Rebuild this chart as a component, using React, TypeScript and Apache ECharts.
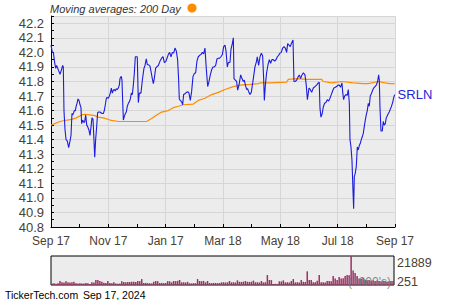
import React, { useEffect, useRef } from "react";
import * as echarts from "echarts";

// ---- Data ----
const xTickLabels = ["Sep 17", "Nov 17", "Jan 17", "Mar 18", "May 18", "Jul 18", "Sep 17"];
const volTickLabels = ["21889", "251"];
const seriesName = "SRLN";
const legendTitle = "Moving averages: 200 Day";
const footerSite = "TickerTech.com";
const footerDate = "Sep 17, 2024";

// calendar day offset since Sep 17 (0..366)
const priceDays = [
  0, 1.4, 2.5, 3.9, 5.0, 6.0, 7.8, 9.6, 10.6, 12.4, 13.1, 13.8, 14.9, 16.0, 17.4, 18.8, 20.2, 21.3, 22.3, 23.0,
  24.1, 24.8, 25.9, 26.6, 27.7, 28.7, 29.8, 30.9, 31.9, 32.6, 33.7, 34.8, 35.8, 36.9, 38.0, 39.0, 40.4, 41.5, 42.6, 43.6,
  44.7, 45.7, 46.5, 47.5, 48.6, 49.6, 50.7, 52.1, 53.2, 54.3, 55.7, 56.7, 57.8, 58.9, 59.9, 61.0, 62.1, 63.1, 64.2, 65.2,
  66.3, 67.4, 68.4, 69.5, 70.6, 71.6, 72.7, 73.4, 74.8, 75.5, 76.2, 77.0, 78.0, 79.1, 80.1, 81.2, 82.3, 83.3, 84.4, 85.5,
  86.5, 87.6, 88.7, 89.7, 90.8, 91.8, 92.9, 94.0, 95.7, 97.2, 98.9, 100.0, 101.4, 102.5, 103.9, 105.3, 106.4, 107.8, 108.9, 109.9,
  111.3, 112.4, 114.2, 116.0, 117.7, 119.2, 120.6, 122.0, 123.4, 124.8, 126.2, 127.7, 129.1, 130.5, 131.9, 133.3, 134.7, 135.8, 136.5, 137.6,
  139.0, 140.1, 141.1, 142.5, 144.0, 145.4, 146.8, 148.2, 149.6, 151.1, 152.5, 153.9, 155.3, 156.7, 158.2, 159.6, 161.0, 162.4, 163.8, 165.2,
  166.7, 168.1, 169.5, 170.9, 172.3, 173.8, 175.2, 176.6, 178.0, 179.4, 180.8, 182.3, 183.7, 185.1, 186.2, 187.6, 188.7, 190.4, 191.5, 192.9,
  194.0, 194.7, 196.1, 197.5, 198.6, 200.0, 201.8, 203.2, 204.6, 205.7, 206.8, 208.2, 209.2, 210.3, 211.7, 213.1, 214.6, 215.6, 217.0, 218.5,
  219.5, 220.9, 222.4, 223.8, 225.2, 226.3, 227.0, 228.0, 229.4, 230.9, 232.3, 233.7, 235.1, 236.5, 238.0, 239.4, 240.8, 242.2, 243.6, 245.0,
  246.5, 247.9, 249.3, 250.7, 251.8, 253.2, 254.6, 256.0, 257.5, 258.5, 259.9, 261.4, 262.8, 264.2, 265.6, 267.0, 268.5, 270.2, 271.5, 272.8,
  274.5, 275.9, 277.3, 279.1, 280.8, 282.6, 284.4, 285.4, 286.2, 287.2, 288.6, 289.7, 291.1, 292.5, 294.0, 295.4, 296.8, 298.2, 299.6, 301.0,
  302.5, 303.9, 305.3, 306.7, 308.1, 309.6, 310.3, 311.3, 312.4, 313.8, 315.2, 316.3, 317.4, 318.1, 319.1, 320.2, 321.3, 322.0, 322.7, 323.7,
  324.8, 325.9, 326.9, 328.0, 329.1, 330.1, 331.2, 332.3, 333.3, 334.4, 335.4, 336.5, 337.6, 338.6, 339.7, 341.1, 342.2, 343.3, 344.7, 346.1,
  347.5, 348.6, 349.3, 350.0, 351.1, 352.5, 353.5, 354.6, 355.7, 356.7, 357.8, 358.9, 359.9, 361.0, 362.0, 363.5, 364.5, 365.6,
];
const prices = [
  42.05, 42.0, 42.0, 41.93, 41.89, 41.91, 41.88, 41.85, 41.87, 41.91, 41.9, 41.6, 41.47, 41.4, 41.39, 41.345, 41.39, 41.43, 41.58, 41.57,
  41.585, 41.6, 41.6, 41.625, 41.65, 41.68, 41.67, 41.64, 41.62, 41.51, 41.535, 41.52, 41.52, 41.57, 41.5, 41.49, 41.465, 41.43, 41.49, 41.55,
  41.54, 41.4, 41.28, 41.4, 41.49, 41.585, 41.59, 41.59, 41.585, 41.58, 41.58, 41.6, 41.64, 41.685, 41.69, 41.685, 41.7, 41.72, 41.755, 41.72,
  41.74, 41.745, 41.735, 41.75, 41.745, 41.755, 41.775, 41.82, 41.835, 41.81, 41.675, 41.535, 41.56, 41.58, 41.59, 41.63, 41.65, 41.66, 41.68, 41.72,
  41.71, 41.775, 41.86, 41.97, 41.97, 41.97, 41.655, 41.72, 41.72, 41.81, 41.89, 41.91, 41.955, 41.915, 41.915, 41.905, 41.87, 41.82, 41.785, 41.82,
  41.89, 41.9, 41.91, 41.94, 41.96, 41.97, 41.93, 41.935, 41.96, 41.985, 42.0, 41.97, 42.0, 41.995, 42.03, 42.01, 41.95, 41.81, 41.68, 41.67,
  41.66, 41.64, 41.71, 41.715, 41.725, 41.73, 41.72, 41.67, 41.73, 41.835, 41.855, 41.86, 41.94, 41.97, 41.98, 41.985, 42.0, 41.99, 42.03, 41.89,
  41.765, 41.8, 41.845, 41.88, 41.9, 41.9, 41.91, 41.955, 41.96, 41.96, 41.97, 41.985, 42.04, 42.05, 42.01, 41.9, 41.93, 41.93, 42.02, 42.06,
  42.1, 41.82, 41.81, 41.8, 41.74, 41.775, 41.845, 41.82, 41.8, 41.81, 41.775, 41.745, 41.75, 41.73, 41.71, 41.725, 41.79, 41.835, 41.9, 41.935,
  41.97, 41.91, 41.97, 41.995, 41.975, 41.81, 41.67, 41.77, 41.86, 41.915, 41.95, 41.925, 41.95, 41.95, 41.94, 41.95, 41.97, 41.98, 41.995, 42.0,
  42.03, 42.04, 42.03, 42.0, 42.06, 42.05, 42.04, 42.065, 42.085, 41.8, 41.8, 41.81, 41.83, 41.845, 41.82, 41.845, 41.86, 41.845, 41.78, 41.675,
  41.755, 41.745, 41.725, 41.755, 41.765, 41.775, 41.79, 41.795, 41.615, 41.555, 41.58, 41.625, 41.65, 41.655, 41.675, 41.665, 41.685, 41.71, 41.735, 41.755,
  41.76, 41.765, 41.775, 41.775, 41.76, 41.79, 41.73, 41.675, 41.7, 41.71, 41.705, 41.745, 41.65, 41.4, 41.355, 41.26, 41.05, 40.925, 41.145, 41.17,
  41.215, 41.35, 41.33, 41.36, 41.375, 41.4, 41.42, 41.445, 41.49, 41.535, 41.57, 41.6, 41.65, 41.63, 41.7, 41.72, 41.74, 41.755, 41.765, 41.775,
  41.8, 41.845, 41.81, 41.625, 41.46, 41.46, 41.525, 41.5, 41.51, 41.55, 41.565, 41.58, 41.59, 41.61, 41.625, 41.655, 41.685, 41.71,
];

const maDays = [
  0, 9.6, 13, 22, 27, 32.6, 36, 41.5, 46.8, 50, 55.7, 62.8, 71.6, 80.5, 94, 101.8, 107, 112.4, 117.7, 124.8,
  130.1, 135.5, 140.8, 151.4, 156.7, 163.8, 170.9, 178, 185.1, 194, 201, 211.7, 220.6, 222.4, 233, 250.7, 252.5, 261.4, 272, 288,
  289.7, 298.6, 309.2, 321.6, 332.3, 337.6, 348.2, 355.3, 360.6, 365.6,
];
const maValues = [
  41.5, 41.525, 41.53, 41.54, 41.55, 41.57, 41.575, 41.57, 41.565, 41.555, 41.55, 41.535, 41.525, 41.525, 41.525, 41.525, 41.545, 41.57, 41.59, 41.6,
  41.62, 41.63, 41.64, 41.645, 41.67, 41.685, 41.71, 41.725, 41.745, 41.765, 41.775, 41.78, 41.785, 41.79, 41.79, 41.795, 41.815, 41.82, 41.815, 41.815,
  41.8, 41.79, 41.8, 41.79, 41.785, 41.785, 41.8, 41.79, 41.785, 41.785,
];

// volume (thousands), left to right
const volumes = [
  1100, 1300, 1000, 1400, 3000, 2000, 1800, 2900, 2000, 1900, 2100, 2400, 1300, 1200, 1300, 1100, 1200, 1500, 1400, 700,
  2000, 1900, 3800, 3700, 3000, 2400, 1700, 1600, 3000, 1500, 1400, 2000, 1100, 1000, 1200, 2800, 2200, 2100, 2300, 2200,
  2400, 2500, 2300, 3000, 2900, 4500, 1500, 1600, 1400, 1300, 1200, 2400, 3000, 2900, 1500, 1600, 1400, 1500, 2900, 2800,
  2000, 3000, 2900, 3100, 3800, 2000, 2100, 1900, 2400, 1300, 1200, 1400, 1300, 4500, 3000, 2900, 3100, 2000, 3000, 1500,
  1400, 1600, 1500, 1400, 1500, 2000, 2100, 1900, 2000, 3000, 2000, 2100, 1900, 3500, 2400, 2300, 2500, 3000, 2400, 2300,
  2500, 3300, 2000, 2100, 1900, 3000, 2000, 2100, 7500, 3800, 3700, 800, 900, 800, 2800, 2700, 3500, 2000, 2100, 1900,
  3000, 4500, 2000, 2100, 1900, 3800, 2400, 2300, 10300, 3800, 3700, 2000, 2100, 3300, 7500, 2000, 2100, 1900, 3000, 3100,
  2900, 6800, 5000, 3800, 6000, 5000, 5100, 6800, 7500, 7400, 21889, 11000, 9000, 6800, 5000, 4800, 5200, 4000, 3500, 3800,
  3200, 3500, 3000, 3400, 3100, 2800, 3200, 3000, 2700, 2900, 3100, 3000,
];

const FONT = "'Liberation Sans', Arial, sans-serif";
const TICK_COLOR = "#4a4030";

export default function App() {
  const ref = useRef<HTMLDivElement>(null);

  useEffect(() => {
    if (!ref.current) return;
    const chart = echarts.init(ref.current, null, { renderer: "svg" });
    const priceData = priceDays.map((d, i) => [d, prices[i]]);
    const maData = maDays.map((d, i) => [d, maValues[i]]);

    chart.setOption({
      animation: false,
      backgroundColor: "#ffffff",
      textStyle: { fontFamily: FONT },
      grid: [
        { left: 51, top: 16, width: 344, height: 211, show: true, backgroundColor: "#ececec", borderWidth: 0 },
        { left: 51, top: 256, width: 343, height: 29, show: true, backgroundColor: "#ececec", borderColor: "#000", borderWidth: 1 },
      ],
      xAxis: [
        {
          type: "value",
          gridIndex: 0,
          min: 0,
          max: 366,
          interval: 61,
          axisLine: { show: true, lineStyle: { color: "#000", width: 1 } },
          axisTick: { show: true, inside: true, length: 3, lineStyle: { color: "#000" } },
          minorTick: { show: true, splitNumber: 2, length: 3, lineStyle: { color: "#000" } },
          splitLine: { show: true, lineStyle: { color: "#d6d6d6", width: 1 } },
          axisLabel: {
            color: TICK_COLOR,
            fontSize: 12,
            fontFamily: FONT,
            margin: 8,
            formatter: (v: number) => xTickLabels[Math.round(v / 61)] ?? "",
          },
        },
        {
          type: "category",
          gridIndex: 1,
          data: volumes.map((_, i) => String(i)),
          boundaryGap: true,
          axisLine: { show: false },
          axisTick: { show: false },
          axisLabel: { show: false },
          splitLine: { show: false },
        },
      ],
      yAxis: [
        {
          type: "value",
          gridIndex: 0,
          min: 40.8,
          max: 42.25,
          interval: 0.1,
          axisLine: { show: true, lineStyle: { color: "#000", width: 1 } },
          axisTick: { show: true, inside: true, length: 3, lineStyle: { color: "#000" } },
          minorTick: { show: true, splitNumber: 2, length: 3, lineStyle: { color: "#000" } },
          splitLine: { show: true, lineStyle: { color: "#d6d6d6", width: 1 } },
          axisLabel: {
            color: TICK_COLOR,
            fontSize: 13,
            fontFamily: FONT,
            margin: 7,
            showMaxLabel: false,
            formatter: (v: number) => v.toFixed(1),
          },
        },
        {
          type: "value",
          gridIndex: 1,
          min: 0,
          max: 21889,
          axisLine: { show: false },
          axisTick: { show: false },
          axisLabel: { show: false },
          splitLine: { show: false },
        },
      ],
      series: [
        {
          name: "MA200",
          type: "line",
          xAxisIndex: 0,
          yAxisIndex: 0,
          data: maData,
          showSymbol: false,
          lineStyle: { color: "#ff8c00", width: 1.2 },
          itemStyle: { color: "#ff8c00" },
          z: 3,
        },
        {
          name: seriesName,
          type: "line",
          xAxisIndex: 0,
          yAxisIndex: 0,
          data: priceData,
          showSymbol: false,
          lineStyle: { color: "#1c1cdc", width: 1.1 },
          itemStyle: { color: "#1c1cdc" },
          endLabel: {
            show: true,
            formatter: () => seriesName,
            color: "#2424d8",
            fontSize: 13,
            fontFamily: FONT,
            distance: 3,
          },
          z: 4,
        },
        {
          name: "Volume",
          type: "bar",
          xAxisIndex: 1,
          yAxisIndex: 1,
          data: volumes,
          barCategoryGap: "25%",
          itemStyle: { color: "#9c2f63" },
        },
      ],
      graphic: [
        {
          type: "text",
          left: 50,
          top: 3,
          style: {
            text: legendTitle,
            fontFamily: FONT,
            fontSize: 11,
            fontStyle: "italic",
            fill: "#333333",
          },
        },
        {
          type: "circle",
          shape: { cx: 192, cy: 8, r: 4.6 },
          style: { fill: "#ff8c00" },
        },
        {
          type: "text",
          x: 397,
          y: 262.5,
          style: { text: volTickLabels[0], fontFamily: FONT, fontSize: 12.5, fill: TICK_COLOR, verticalAlign: "middle" },
        },
        {
          type: "text",
          x: 397,
          y: 281.5,
          style: { text: volTickLabels[1], fontFamily: FONT, fontSize: 12.5, fill: TICK_COLOR, verticalAlign: "middle" },
        },
        {
          type: "text",
          x: 348,
          y: 281.5,
          z: 10,
          style: { text: "(1000's)", fontFamily: FONT, fontSize: 12, fill: "#5f7f70", opacity: 0.85, verticalAlign: "middle" },
        },
        {
          type: "text",
          x: 5,
          y: 294.5,
          style: { text: footerSite, fontFamily: FONT, fontSize: 10.5, fill: "#000", verticalAlign: "middle" },
        },
        {
          type: "text",
          x: 83,
          y: 294.5,
          style: { text: footerDate, fontFamily: FONT, fontSize: 10.5, fill: "#000", verticalAlign: "middle" },
        },
      ],
    });

    return () => {
      chart.dispose();
    };
  }, []);

  return (
    <div
      ref={ref}
      style={{ position: "fixed", left: 0, top: 0, width: 450, height: 300, background: "#fff" }}
    />
  );
}
